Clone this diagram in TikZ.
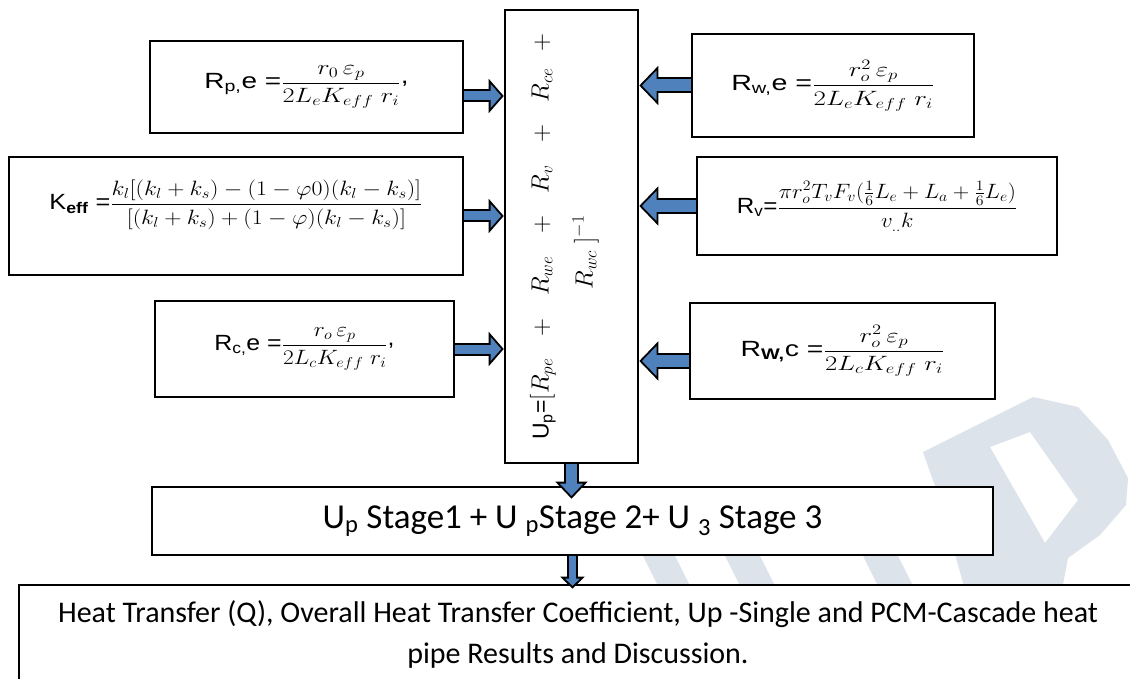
\documentclass[tikz,border=0pt]{standalone}
\usepackage{amsmath}
\usepackage{graphicx}
\usepackage[no-math]{fontspec}
\setmainfont{Liberation Sans}
\newfontfamily\calfont{Carlito}
\usetikzlibrary{arrows.meta, positioning, calc}
\definecolor{arrblue}{HTML}{4F81BD}
\definecolor{wmark}{HTML}{DCE3EB}
\newcommand{\pl}{\hspace{17pt}+\hspace{17pt}}

\begin{document}
\begin{tikzpicture}[
  x=1pt, y=-1pt,
  line cap=butt, line join=miter,
  box/.style={draw=black, fill=white, line width=2.6pt, align=center, inner sep=4pt,
              font=\fontsize{22}{26}\selectfont},
  txt/.style={font=\calfont\fontsize{30}{41}\selectfont, align=center, inner sep=0pt},
  barr/.style n args={4}{draw=arrblue, line width=#1,
              -{Triangle[length=#4, width=#3, fill=arrblue, color=black, line width=1.8pt]},
              preaction={draw=black, line width=#2, arrows=-, shorten >=#4-4pt},
              postaction={draw=arrblue, line width=#1, arrows=-, shorten >=#4-2.5pt}},
  larr/.style={barr={9pt}{13pt}{34pt}{15pt}},
  rarr/.style={barr={12pt}{16pt}{39pt}{19pt}},
  darr/.style={barr={11pt}{15pt}{32pt}{17pt}},
  sarr/.style={barr={7pt}{11pt}{24pt}{12pt}},
]
\useasboundingbox (0,0) rectangle (1130,679);
\fill[white] (0,0) rectangle (1130,679);
\clip (0,0) rectangle (1130,679);

% watermark
\fill[wmark, even odd rule] (923,452) -- (1033,397) -- (1078,407) -- (1108,440) -- (1128,478)
  -- (1126,505) -- (1100,535) -- (1068,558) -- (1062,590) -- (965,590) -- (940,500) -- cycle
  (990,447) -- (1030,432) -- (1078,500) -- (1045,543) -- cycle;
\fill[wmark] (640,550) -- (672,550) -- (692,590) -- (660,590) -- cycle;
\fill[wmark] (722,550) -- (757,550) -- (777,590) -- (742,590) -- cycle;
\fill[wmark] (860,550) -- (895,550) -- (915,590) -- (880,590) -- cycle;

\node[box, minimum width=133pt, minimum height=453pt] (up) at (571.5,236.5) {};
\node[rotate=90, align=center, font=\fontsize{23}{44}\selectfont] (uptxt) at ([xshift=-7pt]up.center)
  {U\textsubscript{p}=$[R_{pe}\pl R_{we}\pl R_{v}\pl R_{ce}\hspace{17pt}+$\\ $R_{wc}\;]^{-1}$\rule{32pt}{0pt}};

\node[box, minimum width=313pt, minimum height=92pt] (rpe) at (306.5,87)
  {\scalebox{1.27}[1]{R\textsubscript{p,}e =$\dfrac{r_0\,\varepsilon_p}{2L_eK_{eff}\;r_i}$\raisebox{5pt}{,}}};
\node[box, minimum width=454pt, minimum height=118pt, text depth=42pt] (keff) at (236,216)
  {\scalebox{1.15}[1]{K\textsubscript{\bfseries eff} =$\dfrac{k_l[(k_l+k_s)-(1-\varphi 0)(k_l-k_s)]}{[(k_l+k_s)+(1-\varphi)(k_l-k_s)]}$}};
\node[box, minimum width=299pt, minimum height=96pt] (rce) at (304.5,349)
  {\scalebox{1.13}[1]{R\textsubscript{c,}e =$\dfrac{r_o\,\varepsilon_p}{2L_cK_{eff}\;r_i}$\raisebox{5pt}{,}}};

\node[box, minimum width=282pt, minimum height=103pt] (rwe) at (833,85.5)
  {\scalebox{1.3}[1]{R\textsubscript{w,}e =$\dfrac{r_o^2\,\varepsilon_p}{2L_eK_{eff}\;r_i}$}};
\node[box, minimum width=360pt, minimum height=98pt] (rv) at (877,206)
  {\scalebox{1.1}[1]{R\textsubscript{v}=$\dfrac{\pi r_o^2T_vF_v(\frac{1}{6}L_e+L_a+\frac{1}{6}L_e)}{v_{..}k}$}};
\node[box, minimum width=305pt, minimum height=96pt] (rwc) at (842.5,351)
  {\scalebox{1.29}[1]{R\textsubscript{\bfseries W,}c =$\dfrac{r_o^2\,\varepsilon_p}{2L_cK_{eff}\;r_i}$}};

\node[box, minimum width=841pt, minimum height=68pt] (stage) at (572.5,521)
  {\calfont\fontsize{35}{40}\selectfont U\textsubscript{p} Stage1 + U \textsubscript{p}Stage 2+ U \textsubscript{3} Stage 3};
\node[box, minimum width=1118pt, minimum height=99pt] (res) at (578,634.5) {};
\node[txt] (restxt) at (res.center)
  {Heat Transfer (Q), Overall Heat Transfer Coefficient, Up -Single and PCM-Cascade heat\\
   pipe Results and Discussion.};

\draw[larr] ([yshift=-9pt]rpe.east) -- ([yshift=-9pt]rpe.east -| up.west);
\draw[larr] (keff.east) -- (keff.east -| up.west);
\draw[larr] (rce.east) -- (rce.east -| up.west);
\draw[rarr] (rwe.west) -- (rwe.west -| up.east);
\draw[rarr] (rv.west) -- (rv.west -| up.east);
\draw[rarr] ([yshift=-10pt]rwc.west) -- ([yshift=-10pt]rwc.west -| up.east);

\coordinate (s1) at ([yshift=-13pt]stage.north -| up.south);
\draw[darr] (up.south) -- (s1);
\coordinate (s2) at ([yshift=-5pt]res.north -| stage.south);
\draw[sarr] (stage.south) -- (s2);
\end{tikzpicture}
\end{document}
